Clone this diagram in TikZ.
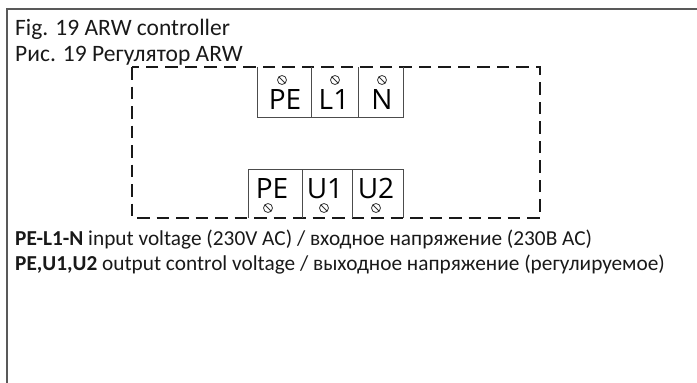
\documentclass[tikz,border=0pt]{standalone}
\usepackage{fontspec}
\setmainfont{Carlito}
\newfontfamily\termfont{Open Sans}
\usetikzlibrary{positioning}
\tikzset{
	cell/.style={minimum height=50pt, inner sep=0pt, outer sep=0pt},
	screw/.style={draw=black!80, circle, minimum size=9pt, inner sep=0pt, line width=0.8pt,
		path picture={\draw[line width=0.8pt] (path picture bounding box.north west) -- (path picture bounding box.south east);}},
	term/.style={font=\termfont\fontsize{28}{28}\selectfont, inner sep=0pt, text=black},
	caption/.style={anchor=base west, inner sep=0pt, text=black!90},
	wire/.style={draw=black!70, line width=1pt}
}
\begin{document}
\begin{tikzpicture}[x=1pt,y=-1pt]
	\useasboundingbox (0,0) rectangle (697,383);
	% frame
	\coordinate (fb) at (7,383);
	\coordinate (ft) at (7,9);
	\coordinate (fr) at (697,9);
	\draw[draw=black!65, line width=1.4pt] (fb) -- (ft) -- (fr);
	% captions
	\node (figen) [caption, font=\fontsize{23.5}{23.5}\selectfont] at (15,35) {Fig. 19 ARW controller};
	\node (figru) [caption, font=\fontsize{23.5}{23.5}\selectfont] at (15,61) {Рис. 19 Регулятор ARW};
	% housing
	\coordinate (hnw) at (132,67);
	\coordinate (hse) at (540,218);
	\draw[dash pattern=on 12.5pt off 7pt, line width=1.5pt, black!90] (hnw) rectangle (hse);
	% input terminals
	\node (pein) [cell, minimum width=54pt, anchor=north west] at (257,67) {};
	\node (lone) [cell, minimum width=47pt, right=0pt of pein] {};
	\node (nin) [cell, minimum width=45pt, right=0pt of lone] {};
	\draw[wire] (pein.north west) |- (nin.south east) -- (nin.north east);
	\draw[wire] (pein.north east) -- (pein.south east);
	\draw[wire] (lone.north east) -- (lone.south east);
	% output terminals
	\node (peout) [cell, minimum width=54pt, minimum height=49pt, anchor=north west] at (248,169) {};
	\node (uone) [cell, minimum width=50pt, minimum height=49pt, right=0pt of peout] {};
	\node (utwo) [cell, minimum width=51pt, minimum height=49pt, right=0pt of uone] {};
	\draw[wire] (peout.south west) |- (utwo.north east) -- (utwo.south east);
	\draw[wire] (peout.north east) -- (peout.south east);
	\draw[wire] (uone.north east) -- (uone.south east);
	% screws
	\node (spein) [screw] at (282,80) {};
	\node (slone) [screw] at (335,80) {};
	\node (snin) [screw] at (382,80) {};
	\node (speout) [screw] at (268,208) {};
	\node (suone) [screw] at (324,208) {};
	\node (sutwo) [screw] at (376,208) {};
	% terminal labels
	\node (tpein) [term, anchor=base] at (285,109) {PE};
	\node (tlone) [term, anchor=base] at (334,109) {L1};
	\node (tnin) [term, anchor=base] at (382,109) {N};
	\node (tpeout) [term, anchor=base] at (272,198) {PE};
	\node (tuone) [term, anchor=base] at (325,198) {U1};
	\node (tutwo) [term, anchor=base] at (376,198) {U2};
	% legend
	\node (legin) [caption, font=\fontsize{21.3}{21.3}\selectfont] at (15,245) {\textbf{PE-L1-N} input voltage (230V AC) / входное напряжение (230В AC)};
	\node (legout) [caption, font=\fontsize{21.3}{21.3}\selectfont] at (15,270) {\textbf{PE,U1,U2} output control voltage / выходное напряжение (регулируемое)};
\end{tikzpicture}
\end{document}
